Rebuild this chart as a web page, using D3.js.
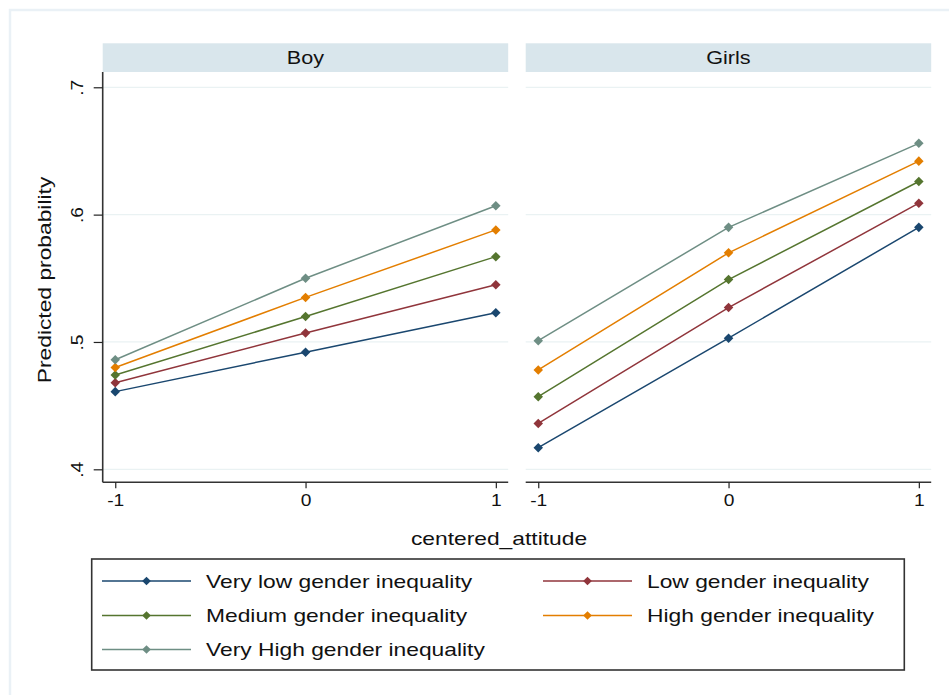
<!DOCTYPE html>
<html>
<head>
<meta charset="utf-8">
<script src="https://cdn.jsdelivr.net/npm/d3@7"></script>
<style>
  html, body { margin: 0; padding: 0; background: #ffffff; }
  svg { display: block; font-family: Arial, "Liberation Sans", sans-serif; }
</style>
</head>
<body>
<svg id="chart" width="949" height="695"></svg>
<script>
// ---- data ----
const panels = ["Boy", "Girls"];
const xValues = [-1, 0, 1];
const xTickLabels = ["-1", "0", "1"];
const yTicks = [0.4, 0.5, 0.6, 0.7];
const yTickLabels = [".4", ".5", ".6", ".7"];
const seriesNames = [
  "Very low gender inequality",
  "Low gender inequality",
  "Medium gender inequality",
  "High gender inequality",
  "Very High gender inequality"
];
const seriesColors = ["#1a476f", "#90353b", "#55752f", "#e37e00", "#6e8e84"];
// values per series at x = -1, 0, 1
const boyVeryLow  = [0.461, 0.492, 0.523];
const boyLow      = [0.468, 0.507, 0.545];
const boyMedium   = [0.474, 0.520, 0.567];
const boyHigh     = [0.480, 0.535, 0.588];
const boyVeryHigh = [0.486, 0.550, 0.607];
const girlsVeryLow  = [0.417, 0.503, 0.590];
const girlsLow      = [0.436, 0.527, 0.609];
const girlsMedium   = [0.457, 0.549, 0.626];
const girlsHigh     = [0.478, 0.570, 0.642];
const girlsVeryHigh = [0.501, 0.590, 0.656];

const panelData = {
  "Boy":   [boyVeryLow, boyLow, boyMedium, boyHigh, boyVeryHigh],
  "Girls": [girlsVeryLow, girlsLow, girlsMedium, girlsHigh, girlsVeryHigh]
};

// ---- layout ----
const svg = d3.select("#chart");
const panelLeft = [102.7, 525.7];
const panelWidth = 405.5;
const plotTop = 72;
const plotBottom = 482.3;
const stripTop = 43.3;
const STRETCH = 1.2;

function stretch(sel, k) {
  sel.each(function () {
    const w = this.getComputedTextLength();
    d3.select(this).attr("textLength", w * k).attr("lengthAdjust", "spacingAndGlyphs");
  });
}

// outer graph-region frame
svg.append("rect")
  .attr("x", 10).attr("y", 10).attr("width", 960).attr("height", 700)
  .attr("fill", "none").attr("stroke", "#eaf1f6").attr("stroke-width", 2.5);

const y = d3.scaleLinear().domain([0.3898, 0.712]).range([plotBottom, plotTop]);

panels.forEach((p, pi) => {
  const x0 = panelLeft[pi];
  const x = d3.scaleLinear().domain([-1.066, 1.065]).range([x0, x0 + panelWidth]);
  const g = svg.append("g");

  // strip
  g.append("rect")
    .attr("x", x0).attr("y", stripTop)
    .attr("width", panelWidth).attr("height", plotTop - stripTop)
    .attr("fill", "#d9e6ec");
  g.append("text")
    .attr("x", x0 + panelWidth / 2).attr("y", (stripTop + plotTop) / 2 + 0.5)
    .attr("text-anchor", "middle").attr("dominant-baseline", "central")
    .attr("font-size", 18).attr("fill", "#111")
    .text(p).call(stretch, STRETCH);

  // gridlines
  g.append("g").selectAll("line").data(yTicks).join("line")
    .attr("x1", x0).attr("x2", x0 + panelWidth)
    .attr("y1", d => y(d)).attr("y2", d => y(d))
    .attr("stroke", "#eaf2f3").attr("stroke-width", 1.2);

  // x axis
  const xAxis = d3.axisBottom(x).tickValues(xValues)
    .tickFormat((d, i) => xTickLabels[i]).tickSize(6).tickPadding(6);
  const gx = g.append("g").attr("transform", `translate(0,${plotBottom})`).call(xAxis);
  gx.select(".domain").attr("d", `M${x0},0H${x0 + panelWidth}`)
    .attr("stroke", "#333").attr("stroke-width", 1.6);
  gx.selectAll(".tick line").attr("stroke", "#222").attr("stroke-width", 1.2);
  gx.selectAll(".tick text").attr("font-size", 16).attr("fill", "#111")
    .attr("font-family", "Arial, 'Liberation Sans', sans-serif")
    .call(stretch, STRETCH);

  // y axis only on first panel
  if (pi === 0) {
    const yAxis = d3.axisLeft(y).tickValues(yTicks)
      .tickFormat((d, i) => yTickLabels[i]).tickSize(9).tickPadding(0);
    const gy = g.append("g").attr("transform", `translate(${x0},0)`).call(yAxis);
    gy.select(".domain").attr("d", `M0,${plotTop}V${plotBottom}`)
      .attr("stroke", "#333").attr("stroke-width", 1.6);
    gy.selectAll(".tick line").attr("stroke", "#222").attr("stroke-width", 1.2);
    gy.selectAll(".tick text")
      .attr("font-size", 16).attr("fill", "#111")
      .attr("font-family", "Arial, 'Liberation Sans', sans-serif")
      .attr("x", null).attr("dy", null)
      .attr("text-anchor", "middle")
      .attr("transform", "translate(-25,0) rotate(-90)")
      .attr("dy", "0.35em")
      .call(stretch, STRETCH);
  }

  // series
  const line = d3.line().x((d, i) => x(xValues[i])).y(d => y(d));
  const diamond = d3.symbol().type(d3.symbolDiamond2).size(58);
  panelData[p].forEach((vals, si) => {
    g.append("path").datum(vals)
      .attr("d", line).attr("fill", "none")
      .attr("stroke", seriesColors[si]).attr("stroke-width", 1.5);
    g.append("g").selectAll("path").data(vals).join("path")
      .attr("d", diamond)
      .attr("transform", (d, i) => `translate(${x(xValues[i])},${y(d)})`)
      .attr("fill", seriesColors[si]);
  });
});

// axis titles
svg.append("text")
  .attr("transform", "translate(44,280) rotate(-90)")
  .attr("text-anchor", "middle").attr("dominant-baseline", "central")
  .attr("font-size", 19).attr("fill", "#111")
  .text("Predicted probability").call(stretch, STRETCH);
svg.append("text")
  .attr("x", 499).attr("y", 538)
  .attr("text-anchor", "middle").attr("dominant-baseline", "central")
  .attr("font-size", 19).attr("fill", "#111")
  .text("centered_attitude").call(stretch, STRETCH);

// legend
const lg = svg.append("g");
lg.append("rect")
  .attr("x", 91.7).attr("y", 559).attr("width", 812.6).attr("height", 111)
  .attr("fill", "#fff").attr("stroke", "#333").attr("stroke-width", 1.6);
const legendPos = [
  {lx: 102, ly: 581}, {lx: 543, ly: 581},
  {lx: 102, ly: 615.5}, {lx: 543, ly: 615.5},
  {lx: 102, ly: 649.5}
];
const legendDiamond = d3.symbol().type(d3.symbolDiamond2).size(48);
seriesNames.forEach((name, i) => {
  const pos = legendPos[i];
  lg.append("line")
    .attr("x1", pos.lx).attr("x2", pos.lx + 89)
    .attr("y1", pos.ly).attr("y2", pos.ly)
    .attr("stroke", seriesColors[i]).attr("stroke-width", 1.5);
  lg.append("path").attr("d", legendDiamond)
    .attr("transform", `translate(${pos.lx + 44.5},${pos.ly})`)
    .attr("fill", seriesColors[i]);
  lg.append("text")
    .attr("x", pos.lx + 104).attr("y", pos.ly)
    .attr("dominant-baseline", "central")
    .attr("font-size", 19).attr("fill", "#111")
    .text(name).call(stretch, STRETCH);
});
</script>
</body>
</html>
